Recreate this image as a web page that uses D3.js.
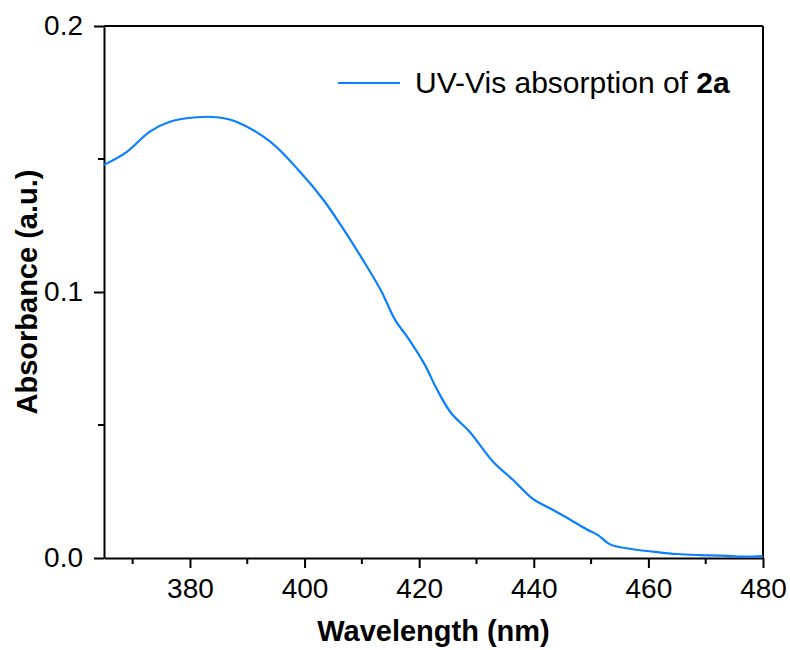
<!DOCTYPE html>
<html>
<head>
<meta charset="utf-8">
<script src="https://cdn.jsdelivr.net/npm/d3@7"></script>
<style>
  body { margin: 0; background: #fff; }
  svg text { font-family: "Liberation Sans", Arial, sans-serif; }
</style>
</head>
<body>
<div id="chart"></div>
<script>
// wavelength (nm) and absorbance
const wavelength = [364.9, 369.0, 373.0, 376.5, 381.2, 384.7, 388.1, 394.0, 399.2, 403.3, 406.7, 410.2,
  413.4, 415.8, 418.1, 421.0, 423.0, 425.6, 428.8, 432.9, 436.4, 439.9, 442.8, 446.3, 449.2, 451.2,
  453.0, 454.1, 457.3, 460.8, 464.9, 469.0, 473.0, 476.5, 480.0];
const absorbance = [0.1477, 0.1527, 0.1603, 0.1640, 0.1657, 0.1657, 0.1640, 0.1565, 0.1452, 0.1346, 0.1239, 0.1120,
  0.1003, 0.0895, 0.0826, 0.0726, 0.0638, 0.0544, 0.0475, 0.0362, 0.0293, 0.0221, 0.0187, 0.0145, 0.0108, 0.0086,
  0.0055, 0.0045, 0.0033, 0.0024, 0.0015, 0.0011, 0.0009, 0.0005, 0.0007];

const xMajor = [380, 400, 420, 440, 460, 480];
const xMinor = [370, 390, 410, 430, 450, 470];
const yMajor = [0, 0.1, 0.2];
const yMinor = [0.05, 0.15];

const width = 790, height = 650;
const margin = { top: 26, right: 27, bottom: 92, left: 104 };

const svg = d3.select('#chart')
  .append('svg')
  .attr('width', width)
  .attr('height', height);

const x = d3.scaleLinear().domain([365, 480]).range([margin.left, width - margin.right]);
const y = d3.scaleLinear().domain([0, 0.2]).range([height - margin.bottom, margin.top]);

// frame (top and right sides)
svg.append('line')
  .attr('x1', x.range()[0]).attr('x2', x.range()[1])
  .attr('y1', y.range()[1]).attr('y2', y.range()[1])
  .attr('stroke', '#000').attr('stroke-width', 2);
svg.append('line')
  .attr('x1', x.range()[1]).attr('x2', x.range()[1])
  .attr('y1', y.range()[0]).attr('y2', y.range()[1])
  .attr('stroke', '#000').attr('stroke-width', 2);

// bottom axis
const xAxis = svg.append('g')
  .attr('transform', `translate(0,${y.range()[0]})`)
  .call(d3.axisBottom(x).tickValues(xMajor).tickSize(10).tickPadding(10).tickSizeOuter(0));
xAxis.append('g')
  .selectAll('line')
  .data(xMinor)
  .enter()
  .append('line')
  .attr('x1', d => x(d)).attr('x2', d => x(d))
  .attr('y1', 0).attr('y2', 6)
  .attr('stroke', '#000').attr('stroke-width', 2);

// left axis
const yAxis = svg.append('g')
  .attr('transform', `translate(${x.range()[0]},0)`)
  .call(d3.axisLeft(y).tickValues(yMajor).tickFormat(d3.format('.1f')).tickSize(10).tickPadding(11).tickSizeOuter(0));
yAxis.append('g')
  .selectAll('line')
  .data(yMinor)
  .enter()
  .append('line')
  .attr('x1', 0).attr('x2', -6)
  .attr('y1', d => y(d)).attr('y2', d => y(d))
  .attr('stroke', '#000').attr('stroke-width', 2);

svg.selectAll('.domain, .tick line')
  .attr('stroke', '#000')
  .attr('stroke-width', 2);
svg.selectAll('.tick text')
  .attr('font-size', '28px')
  .attr('fill', '#000')
  .attr('font-family', '"Liberation Sans", Arial, sans-serif');

// axis titles
svg.append('text')
  .attr('x', (x.range()[0] + x.range()[1]) / 2)
  .attr('y', 641)
  .attr('text-anchor', 'middle')
  .attr('font-size', '29px')
  .attr('font-weight', 'bold')
  .text('Wavelength (nm)');

svg.append('text')
  .attr('transform', `translate(37,${(y.range()[0] + y.range()[1]) / 2}) rotate(-90)`)
  .attr('text-anchor', 'middle')
  .attr('font-size', '29px')
  .attr('font-weight', 'bold')
  .text('Absorbance (a.u.)');

// spectrum
const line = d3.line()
  .x((d, i) => x(wavelength[i]))
  .y(d => y(d))
  .curve(d3.curveCatmullRom);

svg.append('path')
  .datum(absorbance)
  .attr('fill', 'none')
  .attr('stroke', '#0a80ff')
  .attr('stroke-width', 2.2)
  .attr('d', line);

// legend
svg.append('line')
  .attr('x1', 338).attr('x2', 400)
  .attr('y1', 83).attr('y2', 83)
  .attr('stroke', '#0a80ff').attr('stroke-width', 2.2);

const legendText = svg.append('text')
  .attr('x', 415)
  .attr('y', 93)
  .attr('font-size', '30px');
legendText.append('tspan').text('UV-Vis absorption of ');
legendText.append('tspan').attr('font-weight', 'bold').text('2a');
</script>
</body>
</html>
